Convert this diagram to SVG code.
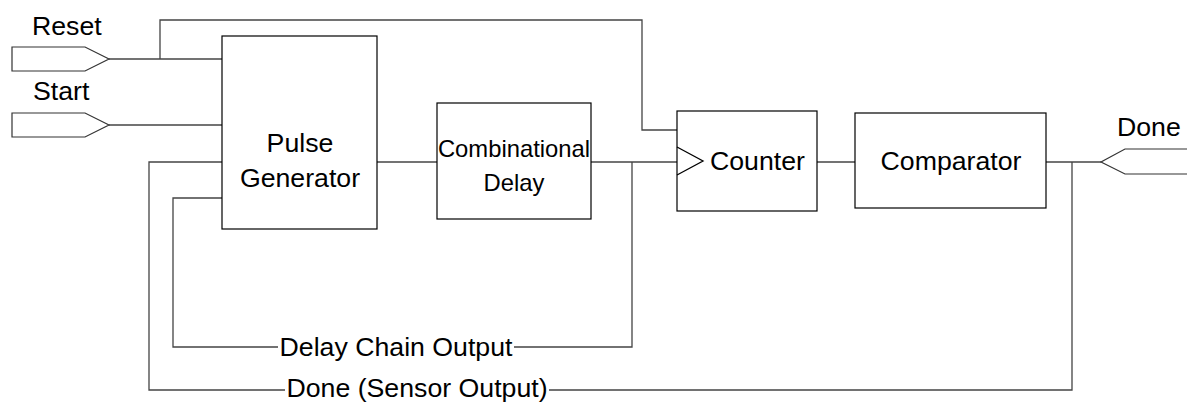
<svg xmlns="http://www.w3.org/2000/svg" width="1187" height="402" viewBox="0 0 1187 402">
  <style>
    .box { fill: #ffffff; stroke: #000000; stroke-width: 1.2; }
    .port { fill: #ffffff; stroke: #333333; stroke-width: 1.2; }
    .wire { fill: none; stroke: #444444; stroke-width: 1.3; }
    .lbl { font-family: "Liberation Sans", Arial, sans-serif; font-size: 26.7px; fill: #000000; }
    .mid { text-anchor: middle; }
  </style>
  <rect width="1187" height="402" fill="#ffffff"/>

  <!-- wiring between blocks -->
  <g id="connectors">
    <!-- Reset into pulse generator, with branch over the top to the counter -->
    <polyline class="wire" points="109,59 222,59"/>
    <polyline class="wire" points="160,59 160,20 642,20 642,130 677,130"/>
    <!-- Start into pulse generator -->
    <polyline class="wire" points="109,125 222,125"/>
    <!-- pulse generator to combinational delay to counter clock -->
    <polyline class="wire" points="377,162 437,162"/>
    <polyline class="wire" points="591,162 677,162"/>
    <!-- counter to comparator, comparator to Done -->
    <polyline class="wire" points="817,162 855,162"/>
    <polyline class="wire" points="1046,162 1101,162"/>
    <!-- delay chain feedback -->
    <polyline class="wire" points="632,162 632,347 514,347"/>
    <polyline class="wire" points="278,347 173,347 173,198 222,198"/>
    <!-- done feedback -->
    <polyline class="wire" points="1072,162 1072,390 549,390"/>
    <polyline class="wire" points="285,390 149,390 149,162 222,162"/>
    <text class="lbl mid" x="396" y="356">Delay Chain Output</text>
    <text class="lbl mid" x="417" y="397">Done (Sensor Output)</text>
  </g>

  <g id="reset">
    <polygon class="port" points="12,47 85,47 109,59 85,71 12,71"/>
    <text class="lbl" x="32" y="35">Reset</text>
  </g>

  <g id="start">
    <polygon class="port" points="12,113 85,113 109,125 85,137 12,137"/>
    <text class="lbl" x="33" y="100">Start</text>
  </g>

  <g id="pulse-generator">
    <rect class="box" x="222" y="36" width="155" height="193"/>
    <text class="lbl mid" x="300" y="152">Pulse</text>
    <text class="lbl mid" x="300" y="187">Generator</text>
  </g>

  <g id="combinational-delay">
    <rect class="box" x="437" y="103" width="154" height="116"/>
    <text class="lbl mid" x="514" y="157" style="font-size:23.8px">Combinational</text>
    <text class="lbl mid" x="514" y="191" style="font-size:23.8px">Delay</text>
  </g>

  <g id="counter">
    <rect class="box" x="677" y="111" width="140" height="100"/>
    <polyline class="wire" points="677,147 703,161 677,175" style="stroke:#000"/>
    <text class="lbl" x="710" y="170">Counter</text>
  </g>

  <g id="comparator">
    <rect class="box" x="855" y="113" width="191" height="95"/>
    <text class="lbl mid" x="951" y="170">Comparator</text>
  </g>

  <g id="done">
    <polygon class="port" points="1192,149 1125,149 1101,162 1125,174 1192,174"/>
    <text class="lbl" x="1117" y="136">Done</text>
  </g>
</svg>
